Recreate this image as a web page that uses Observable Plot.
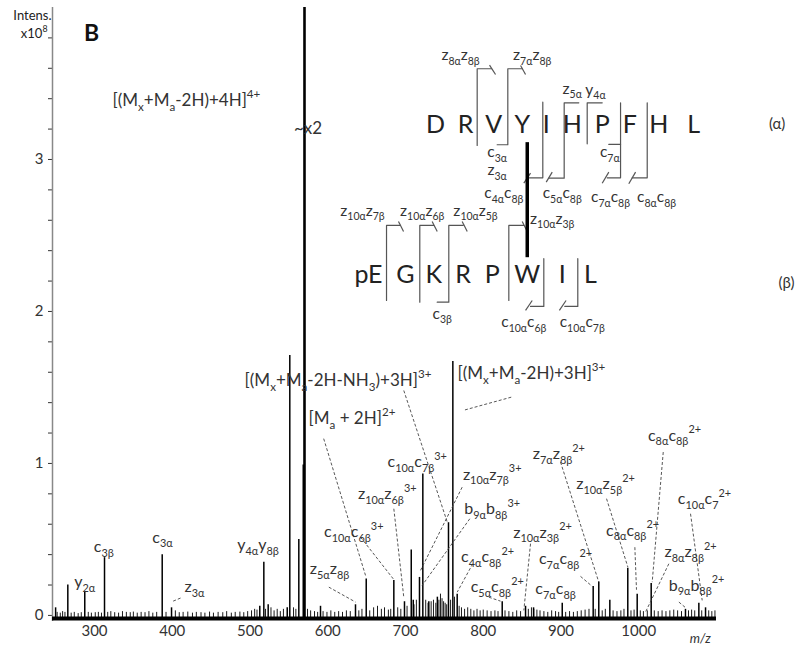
<!DOCTYPE html>
<html><head><meta charset="utf-8">
<script src="https://cdn.jsdelivr.net/npm/d3@7"></script>
<script src="https://cdn.jsdelivr.net/npm/@observablehq/plot@0.6"></script>
<style>body{margin:0;background:#fff}</style>
</head><body><div id="chart"></div>
<script>
// ---- spectrum data (m/z, intensity in 1e8) ----
const peakMz  = [250,265.7,287.5,312.9,387.1,399.1,512.6,517.8,523.4,547.9,551.2,562.8,568.5,590.7,635.7,649.5,685,698.7,707.4,710,718,722.3,730,741,755.3,760.9,766.5,824.4,854.4,864.7,901.6,941.4,948.6,962.8,985.9,998,1016,1060.1,1077.3,1085.9];
const peakInt = [0.05,0.20,0.15,0.38,0.40,0.05,0.06,0.35,0.07,0.05,1.71,0.50,0.99,0.06,0.07,0.24,0.23,0.09,0.43,0.10,0.25,0.93,0.09,0.12,0.61,1.67,0.14,0.09,0.06,0.05,0.08,0.19,0.22,0.10,0.31,0.14,0.21,0.04,0.08,0.05];
const basePeakMz = [570.1];
const basePeakInt = [4.0];
const noiseMz  = [252,256,259,262,270,274,279,283,292,296,301,305,309,317,321,326,331,336,341,346,350,355,360,365,370,375,380,392,404,409,414,420,426,431,437,442,448,453,459,465,470,476,481,487,492,497,502,506,509,520,527,531,535,539,543,556,559,574,578,583,587,594,599,604,609,614,619,624,629,640,644,654,659,664,669,673,678,681,690,694,702,711,714,726,729,733,736,739,743,745,747,749,751,753,758,763,769,772,776,780,784,788,792,796,800,805,810,815,819,828,833,838,843,848,858,862,865,869,873,878,883,888,893,897,906,911,916,921,926,931,936,944,953,957,967,972,977,981,990,994,1002,1006,1011,1020,1025,1030,1035,1040,1045,1050,1055,1064,1068,1072,1081,1090,1094,1098];
const noiseInt = [0.02,0.015,0.025,0.02,0.015,0.02,0.012,0.018,0.02,0.015,0.018,0.02,0.015,0.02,0.025,0.018,0.015,0.025,0.02,0.018,0.022,0.015,0.02,0.018,0.025,0.015,0.02,0.02,0.03,0.018,0.02,0.022,0.015,0.02,0.018,0.015,0.022,0.015,0.02,0.018,0.025,0.015,0.02,0.022,0.018,0.025,0.03,0.04,0.035,0.04,0.05,0.03,0.04,0.025,0.04,0.05,0.04,0.04,0.03,0.025,0.02,0.025,0.02,0.03,0.02,0.025,0.02,0.03,0.025,0.03,0.04,0.03,0.05,0.06,0.04,0.05,0.035,0.04,0.05,0.04,0.06,0.07,0.1,0.1,0.08,0.09,0.1,0.08,0.1,0.14,0.11,0.09,0.08,0.07,0.1,0.12,0.06,0.05,0.04,0.05,0.04,0.03,0.04,0.03,0.035,0.03,0.025,0.03,0.025,0.03,0.025,0.02,0.03,0.025,0.04,0.05,0.04,0.035,0.03,0.025,0.02,0.03,0.025,0.02,0.02,0.025,0.02,0.025,0.03,0.035,0.04,0.04,0.03,0.04,0.03,0.025,0.03,0.04,0.03,0.035,0.03,0.025,0.03,0.03,0.025,0.03,0.025,0.03,0.035,0.03,0.025,0.03,0.035,0.03,0.03,0.03,0.025,0.03];

// ---- axes ----
const xTicks = [300,400,500,600,700,800,900,1000];
const yTicks = [0,0.2,0.4,0.6,0.8,1,1.2,1.4,1.6,1.8,2,2.2,2.4,2.6,2.8,3,3.2,3.4,3.6,3.8];
const yTickLabels = {0:"0",1:"1",2:"2",3:"3"};

// ---- ion labels in the spectrum: [text, m/z, intensity] ----
const ionLabels = [
  ["c_{10α}c_{7β}^{3+}",715.1,1.009],["z_{10α}z_{6β}^{3+}",676.5,0.801],["z_{10α}z_{7β}^{3+}",811.5,0.928],
  ["b_{9α}b_{8β}^{3+}",811.5,0.702],["c_{10α}c_{6β}^{3+}",633.5,0.548],["z_{5α}z_{8β}",602.3,0.306],
  ["y_{4α}y_{8β}",510.3,0.461],["c_{4α}c_{8β}^{2+}",805.5,0.384],["c_{5α}c_{8β}^{2+}",818,0.186],
  ["z_{10α}z_{3β}^{2+}",876.2,0.546],["c_{8α}c_{8β}^{2+}",1046,1.184],["z_{7α}z_{8β}^{2+}",897.2,1.064],
  ["z_{10α}z_{5β}^{2+}",957.3,0.866],["c_{10α}c_{7}^{2+}",1084.6,0.768],["c_{8α}c_{8β}^{2+}",992,0.559],
  ["c_{7α}c_{8β}^{2+}",905.8,0.373],["z_{8α}z_{8β}^{2+}",1066.6,0.417],["c_{7α}c_{8β}",893,0.176],
  ["b_{9α}b_{8β}^{2+}",1074.3,0.197],["c_{3β}",312,0.449],["y_{2α}",287.5,0.219],["c_{3α}",387.5,0.513],
  ["z_{3α}",428.6,0.186]
];
// large precursor labels, left-anchored: [text, m/z, intensity]
const bigLabelsStart = [
  ["[(M_{x}+M_{a}-2H)+3H]^{3+}",766.9,1.592],
  ["[M_{a} + 2H]^{2+}",575.3,1.296],
  ["[(M_{x}+M_{a}-2H)+4H]^{4+}",323.2,3.388],
  ["~x2",556.5,3.204]
];
const bigLabelsMiddle = [
  ["[(M_{x}+M_{a}-2H-NH_{3})+3H]^{3+}",613.2,1.546]
];
// dashed leader lines: [mz1, int1, mz2, int2]
const leaders = [
  [594.8,1.163,648.6,0.263],[697.8,1.480,753.7,0.614],[836,1.436,774.2,1.349],[685,0.702,697.8,0.120],
  [772.9,0.844,719.3,0.296],[782.7,0.636,721.4,0.197],[642.2,0.515,684.2,0.241],[601.4,0.186,635.7,0.088],
  [786.5,0.340,766.5,0.153],[807.2,0.120,822.2,0.094],[860.8,0.472,852.2,0.033],[1031.5,1.075,1017.3,0.219],
  [899.4,1.009,948.6,0.219],[958.6,0.768,986,0.318],[1066.6,0.669,1081.6,0.099],[995,0.449,997.1,0.169],
  [925.1,0.257,940.2,0.191],[1038.7,0.340,1008.7,0.022],[1051.6,0.088,1060.2,0.051],[401.2,0.094,411.5,0.116]
];

// ---- sequence diagram ----
const alphaSeq = ["D","R","V","Y","I","H","P","F","H","L"];
const alphaMz  = [738.6,777.2,813.6,850.1,881,914.4,953,988.5,1025.8,1070.8];
const alphaRow = 3.224;
const betaSeq  = ["pE","G","K","R","P","W","I","L"];
const betaMz   = [652.4,700,736.4,774.2,811.5,856.6,901.6,938];
const betaRow  = 2.237;
const chainTags = [["(α)",1178,3.23],["(β)",1190,2.184]];
const brackets = [
  [[810.6,3.597],[792.2,3.597],[792.2,3.092]],
  [[850.1,3.597],[831.6,3.597],[831.6,3.097],[817.9,3.097]],
  [[876.6,3.377],[876.6,2.879],[856.6,2.879]],
  [[922.9,3.373],[904.1,3.373],[904.1,2.877],[884.4,2.877]],
  [[953,3.373],[933.7,3.373],[933.7,3.103]],
  [[976.6,3.373],[976.6,2.879],[959.4,2.879]],
  [[961.5,3.099],[976.6,3.099]],
  [[1010.9,3.373],[1010.9,2.879],[991.6,2.879]],
  [[693.6,2.566],[675.6,2.566],[675.6,2.072]],
  [[736.4,2.566],[718.4,2.566],[718.4,2.061]],
  [[774.2,2.566],[755.7,2.566],[755.7,2.061],[740.8,2.061]],
  [[852.2,2.566],[832.9,2.566],[832.9,2.072]],
  [[877.9,2.347],[877.9,2.033],[860.8,2.033]],
  [[921.6,2.347],[921.6,2.033],[904.9,2.033]]
];
const slashes = [
  [808.1,3.621,815.8,3.559],[848,3.618,854.4,3.559],[852.2,2.844,860.8,2.910],[881,2.851,888.7,2.917],
  [953,2.844,961.5,2.917],[987.2,2.840,995.9,2.917],
  [691,2.592,697.5,2.526],[734.3,2.592,740.8,2.526],[772.9,2.592,779.4,2.526],[850.1,2.592,856.6,2.526],
  [854.4,2.007,863,2.072],[897.9,2.007,906.5,2.072]
];
const crosslink = [[856.6,3.114,856.6,2.357]];
const seqLabels = [
  ["z_{8α}z_{8β}",770.8,3.684],["z_{7α}z_{8β}",863,3.684],["c_{3α}",817.9,3.048],["z_{3α}",817.9,2.928],
  ["c_{4α}c_{8β}",826.5,2.780],["z_{5α}",914.4,3.465],["y_{4α}",944.4,3.459],["c_{7α}",962.8,3.048],
  ["c_{5α}c_{8β}",901.6,2.780],["c_{7α}c_{8β}",963.7,2.752],["c_{8α}c_{8β}",1022.9,2.752],
  ["z_{10α}z_{7β}",644.7,2.664],["z_{10α}z_{6β}",721.5,2.664],["z_{10α}z_{5β}",790.1,2.664],
  ["c_{3β}",747.2,1.985],["z_{10α}z_{3β}",888.7,2.610],["c_{10α}c_{6β}",852.2,1.930],["c_{10α}c_{7β}",927.3,1.930]
];
const axisTitleY = [["Intens.",244.7,3.947],["x10^{8}",239.6,3.829]];
const panelLetter = [["B",296.2,3.829]];
const axisTitleX = [["m/z",1079.2,-0.151]];

// ---- build tables ----
const peaks = peakMz.map((m,i)=>({mz:m,int:peakInt[i]}));
const noise = noiseMz.map((m,i)=>({mz:m,int:noiseInt[i]}));
const base = basePeakMz.map((m,i)=>({mz:m,int:basePeakInt[i]}));
const bracketPts = brackets.flatMap((b,k)=>b.map(p=>({id:k,mz:p[0],int:p[1]})));
const txt = (arr)=>arr.map(a=>({t:a[0],mz:a[1],int:a[2]}));
const FONT = "Lato, 'Open Sans', sans-serif";
const L = (arr, opts) => Plot.text(txt(arr), {x: "mz", y: "int", text: "t", ...opts});

const chart = Plot.plot({
  width: 800, height: 651,
  marginLeft: 52, marginRight: 84, marginTop: 7, marginBottom: 30,
  style: {fontFamily: FONT, fontSize: "15px", color: "#333", background: "#fff"},
  x: {domain: [246, 1100], ticks: xTicks, tickSize: 0, tickPadding: 4, label: null, tickFormat: d => String(d)},
  y: {domain: [-0.04, 4.0], ticks: yTicks, tickSize: 4, tickPadding: 5, label: null,
      tickFormat: d => yTickLabels[Math.round(d*10)/10] ?? ""},
  marks: [
    Plot.ruleX([246], {y1: -0.04, y2: 4.0, stroke: "#888", strokeWidth: 1.5}),
    Plot.ruleY([-0.02], {x1: 246, x2: 1100, stroke: "#000", strokeWidth: 4}),
    Plot.ruleX(noise, {x: "mz", y1: -0.02, y2: "int", stroke: "#000", strokeWidth: 0.9}),
    Plot.ruleX(peaks, {x: "mz", y1: -0.02, y2: "int", stroke: "#000", strokeWidth: 1.5}),
    Plot.ruleX(base, {x: "mz", y1: -0.02, y2: "int", stroke: "#000", strokeWidth: 2.6}),
    Plot.link(leaders, {x1: d=>d[0], y1: d=>d[1], x2: d=>d[2], y2: d=>d[3], stroke: "#444", strokeWidth: 0.9, strokeDasharray: "3,2"}),
    Plot.line(bracketPts, {x: "mz", y: "int", z: "id", stroke: "#555", strokeWidth: 1.2, curve: "linear"}),
    Plot.link(slashes, {x1: d=>d[0], y1: d=>d[1], x2: d=>d[2], y2: d=>d[3], stroke: "#555", strokeWidth: 1.2}),
    Plot.link(crosslink, {x1: d=>d[0], y1: d=>d[1], x2: d=>d[2], y2: d=>d[3], stroke: "#000", strokeWidth: 3.5}),
    Plot.text(alphaSeq, {x: (d,i)=>alphaMz[i], y: alphaRow, text: d=>d, fontSize: 25, fill: "#222"}),
    Plot.text(betaSeq, {x: (d,i)=>betaMz[i], y: betaRow, text: d=>d, fontSize: 25, fill: "#222"}),
    Plot.text(chainTags, {x: d=>d[1], y: d=>d[2], text: d=>d[0], fontSize: 15, fill: "#333"}),
    L(seqLabels, {fontSize: 15.5, fill: "#333"}),
    L(ionLabels, {fontSize: 16, fill: "#333"}),
    L(bigLabelsStart, {textAnchor: "start", fontSize: 17, fill: "#333"}),
    L(bigLabelsMiddle, {textAnchor: "middle", fontSize: 17, fill: "#333"}),
    L(axisTitleY, {textAnchor: "end", fontSize: 13, fill: "#222"}),
    L(panelLetter, {textAnchor: "middle", fontSize: 23, fontWeight: "bold", fill: "#111"}),
    L(axisTitleX, {textAnchor: "middle", fontSize: 13, fontStyle: "italic", fill: "#333"})
  ]
});
document.getElementById("chart").appendChild(chart);

// rich text: _{sub} and ^{sup}
chart.querySelectorAll("text").forEach(el => {
  const s = el.textContent;
  if (!/[_^]\{/.test(s)) return;
  const fs = parseFloat(getComputedStyle(el).fontSize) || 15;
  el.textContent = "";
  const re = /([_^])\{([^}]*)\}|([^_^]+)/g;
  let m, off = 0;
  while ((m = re.exec(s))) {
    const t = document.createElementNS("http://www.w3.org/2000/svg", "tspan");
    let target;
    if (m[3] !== undefined) { target = 0; t.textContent = m[3]; }
    else { target = m[1] === "_" ? 0.3*fs : -0.45*fs; t.textContent = m[2]; t.setAttribute("font-size", (0.68*fs).toFixed(1)); }
    t.setAttribute("dy", (target - off).toFixed(2));
    off = target;
    el.appendChild(t);
  }
});
</script>
</body></html>
